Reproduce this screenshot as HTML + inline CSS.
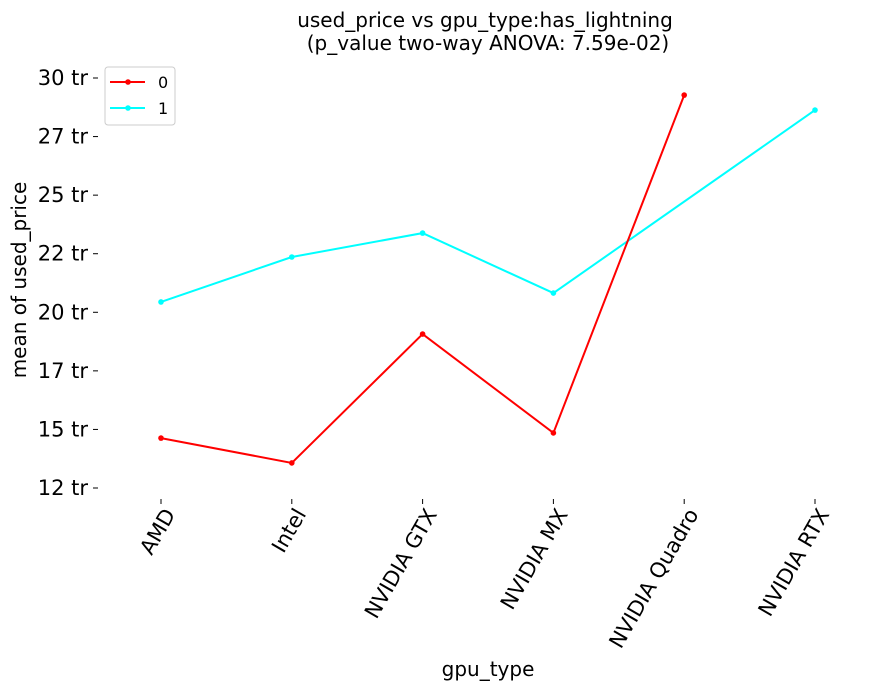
<!DOCTYPE html>
<html><head><meta charset="utf-8"><style>
body{margin:0;background:#fff;}
svg text{font-family:"DejaVu Sans","Liberation Sans",sans-serif;fill:#000;}
</style></head><body>
<svg id="chart" width="889" height="690">
<text x="485" y="27" font-size="20" text-anchor="middle">used_price vs gpu_type:has_lightning</text>
<text x="488" y="50" font-size="20" text-anchor="middle">(p_value two-way ANOVA: 7.59e-02)</text>
<text transform="translate(26,280) rotate(-90)" font-size="20" text-anchor="middle">mean of used_price</text>
<text x="488" y="676" font-size="20" text-anchor="middle">gpu_type</text>
<g id="yaxis"></g>
<g id="xaxis"></g>
<g id="series"></g>
<g>
<rect x="105" y="67" width="70" height="58" rx="3" fill="#fff" stroke="#ccc"/>
<line x1="110" y1="82" x2="145" y2="82" stroke="#f00" stroke-width="2"/><circle cx="128" cy="82" r="2.8" fill="#f00"/>
<text x="158" y="88" font-size="16">0</text>
<line x1="110" y1="108" x2="145" y2="108" stroke="#0ff" stroke-width="2"/><circle cx="128" cy="108" r="2.8" fill="#0ff"/>
<text x="158" y="114" font-size="16">1</text>
</g>
</svg>
<script>
const categories=["AMD","Intel","NVIDIA GTX","NVIDIA MX","NVIDIA Quadro","NVIDIA RTX"];
const series0=[14.63,13.57,19.07,14.85,29.27,null];
const series1=[20.44,22.36,23.38,20.82,null,28.63];
const yTicks=[12.5,15,17.5,20,22.5,25,27.5,30];
const yTickLabels=["12 tr","15 tr","17 tr","20 tr","22 tr","25 tr","27 tr","30 tr"];
const NS="http://www.w3.org/2000/svg";
function y(v){return 488-(v-12.5)*(410/17.5);}
function x(i){return 161+i*130.8;}
function mk(tag,attrs,parent){const e=document.createElementNS(NS,tag);for(const k in attrs)e.setAttribute(k,attrs[k]);parent.appendChild(e);return e;}
const ya=document.getElementById('yaxis'),xa=document.getElementById('xaxis'),sg=document.getElementById('series');
yTicks.forEach((t,i)=>{
 const l=mk('line',{x1:93,x2:98,y1:y(t),y2:y(t),stroke:'#000'},ya);
 
 
 const tx=mk('text',{x:88,y:y(t)+7,'font-size':21,'text-anchor':'end'},ya);
 tx.textContent=yTickLabels[i];
 
 
});
categories.forEach((c,i)=>{
 const l=mk('line',{x1:x(i),x2:x(i),y1:499,y2:504,stroke:'#000'},xa);
 
 
 const tx=mk('text',{transform:`translate(${x(i)+15},514) rotate(-60)`,'font-size':21,'text-anchor':'end'},xa);
 tx.textContent=c;
 
 
});
function draw(vals,color,name){
 const pts=[];vals.forEach((v,i)=>{if(v!==null)pts.push([x(i),y(v)]);});
 const pl=mk('polyline',{points:pts.map(p=>p.join(',')).join(' '),fill:'none',stroke:color,'stroke-width':2},sg);
 
 
 pts.forEach(p=>{const c=mk('circle',{cx:p[0],cy:p[1],r:2.8,fill:color},sg);
 
 });
}
draw(series1,'#00ffff','series-1');
draw(series0,'#ff0000','series-0');
</script>
</body></html>
